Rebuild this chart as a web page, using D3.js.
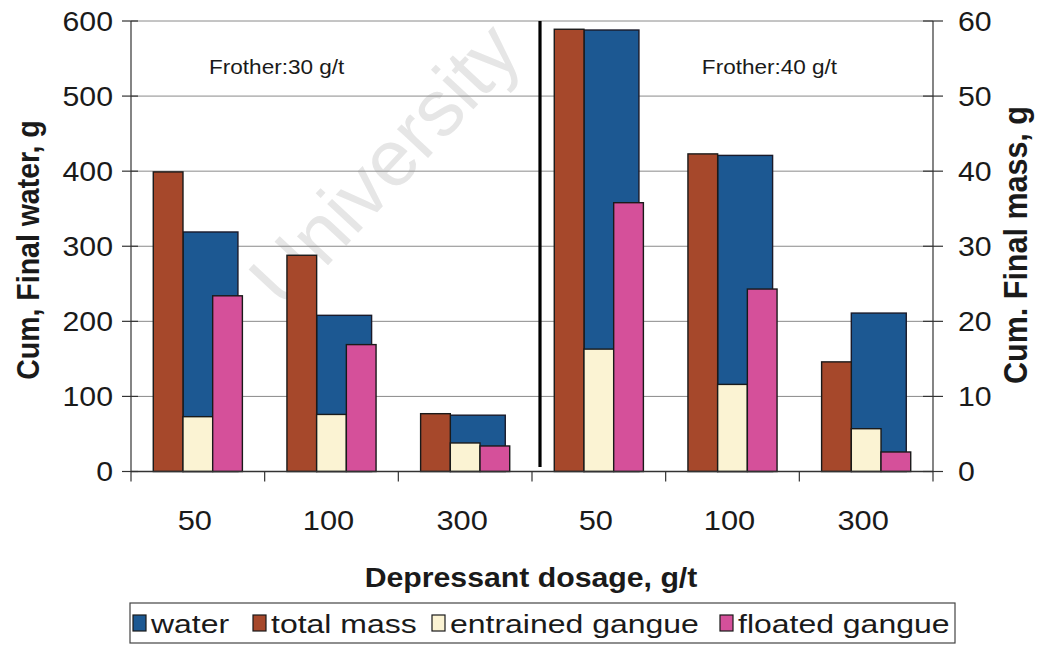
<!DOCTYPE html>
<html>
<head>
<meta charset="utf-8">
<script src="https://cdn.jsdelivr.net/npm/d3@7"></script>
<style>
  html, body { margin: 0; padding: 0; background: #fff; }
  svg { display: block; font-family: "Liberation Sans", Arial, sans-serif; }
</style>
</head>
<body>
<svg id="chart" width="1043" height="646"></svg>
<script>
// Depressant dosage per run (two frother levels, three dosages each)
const dosages = ["50", "100", "300", "50", "100", "300"];
const frotherLabels = ["Frother:30 g/t", "Frother:40 g/t"];

// Primary axis (g)
const water = [319, 208, 75, 588, 421, 211];
// Secondary axis (g)
const totalMass = [39.9, 28.8, 7.7, 58.9, 42.3, 14.6];
const entrainedGangue = [7.3, 7.6, 3.8, 16.3, 11.6, 5.7];
const floatedGangue = [23.4, 16.9, 3.4, 35.8, 24.3, 2.6];

const leftTicks = [0, 100, 200, 300, 400, 500, 600];
const rightTicks = [0, 10, 20, 30, 40, 50, 60];

const seriesNames = ["water", "total mass", "entrained gangue", "floated gangue"];
const colors = {
  "water": "#1c5892",
  "total mass": "#a6482b",
  "entrained gangue": "#fbf3d3",
  "floated gangue": "#d5509a"
};

const SX = 1.1; // horizontal text stretch
const svg = d3.select("#chart");

const plot = { left: 131, right: 933, top: 21, bottom: 471.5 };

const x = d3.scaleBand().domain(d3.range(dosages.length))
  .range([plot.left, plot.right]).paddingInner(0).paddingOuter(0);
const sub = d3.scaleBand().domain(["total mass", "entrained gangue", "floated gangue"])
  .range([0, x.bandwidth()]).paddingInner(0).paddingOuter(0.75);
const yL = d3.scaleLinear().domain([0, 600]).range([plot.bottom, plot.top]);
const yR = d3.scaleLinear().domain([0, 60]).range([plot.bottom, plot.top]);

function label(parent, px, py, str, o = {}) {
  const g = parent.append("g")
    .attr("transform", `translate(${px},${py}) scale(${o.sx || SX},1)` + (o.rotate ? ` rotate(${o.rotate})` : ""));
  return g.append("text")
    .attr("text-anchor", o.anchor || "middle")
    .attr("dy", o.dy || "0.35em")
    .attr("font-size", o.size || 27)
    .attr("font-weight", o.weight || "normal")
    .attr("fill", o.fill || "#1a1a1a")
    .text(str);
}

// faint watermark
const wm = svg.append("g").attr("transform", "translate(384,164) rotate(-47)");
wm.append("text").attr("text-anchor", "middle").attr("dy", "0.35em")
  .attr("font-size", 80).attr("fill", "#e6e6e6").text("University");

// gridlines
svg.append("g").selectAll("line").data(leftTicks.slice(1)).join("line")
  .attr("x1", plot.left).attr("x2", plot.right)
  .attr("y1", d => yL(d)).attr("y2", d => yL(d))
  .attr("stroke", "#8a8a8a").attr("stroke-width", 1);

// water (primary axis, drawn behind)
svg.append("g").selectAll("rect").data(water).join("rect")
  .attr("x", (d, i) => x(i) + sub("entrained gangue"))
  .attr("width", sub.bandwidth() * 1.85)
  .attr("y", d => yL(d))
  .attr("height", d => yL(0) - yL(d))
  .attr("fill", colors["water"]).attr("stroke", "#1a1a2a").attr("stroke-width", 1.4);

// secondary-axis series
const secondary = [
  ["total mass", totalMass],
  ["entrained gangue", entrainedGangue],
  ["floated gangue", floatedGangue]
];
secondary.forEach(([name, vals]) => {
  svg.append("g").selectAll("rect").data(vals).join("rect")
    .attr("x", (d, i) => x(i) + sub(name))
    .attr("width", sub.bandwidth())
    .attr("y", d => yR(d))
    .attr("height", d => yR(0) - yR(d))
    .attr("fill", colors[name]).attr("stroke", "#1a1a1a").attr("stroke-width", 1.4);
});

// divider between frother levels
svg.append("line")
  .attr("x1", x(3) + 8).attr("x2", x(3) + 8)
  .attr("y1", plot.top).attr("y2", 467)
  .attr("stroke", "#000").attr("stroke-width", 3.2);

// axes lines
const axisColor = "#333";
svg.append("line").attr("x1", plot.left).attr("x2", plot.left)
  .attr("y1", plot.top).attr("y2", plot.bottom).attr("stroke", axisColor).attr("stroke-width", 1.2);
svg.append("line").attr("x1", plot.right).attr("x2", plot.right)
  .attr("y1", plot.top).attr("y2", plot.bottom).attr("stroke", axisColor).attr("stroke-width", 1.2);
svg.append("line").attr("x1", plot.left).attr("x2", plot.right)
  .attr("y1", plot.bottom).attr("y2", plot.bottom).attr("stroke", axisColor).attr("stroke-width", 1.4);

// left ticks + labels
leftTicks.forEach(t => {
  svg.append("line").attr("x1", plot.left - 9).attr("x2", plot.left + 7)
    .attr("y1", yL(t)).attr("y2", yL(t)).attr("stroke", axisColor).attr("stroke-width", 1.2);
  label(svg, plot.left - 18, yL(t), String(t), { anchor: "end", size: 27.5 });
});
// right ticks + labels
rightTicks.forEach(t => {
  svg.append("line").attr("x1", plot.right - 10).attr("x2", plot.right + 10)
    .attr("y1", yR(t)).attr("y2", yR(t)).attr("stroke", axisColor).attr("stroke-width", 1.2);
  label(svg, plot.right + 25, yR(t), String(t), { anchor: "start", size: 27.5 });
});
// category ticks + labels
d3.range(dosages.length + 1).forEach(i => {
  const xx = i < dosages.length ? x(i) : plot.right;
  svg.append("line").attr("x1", xx).attr("x2", xx)
    .attr("y1", plot.bottom).attr("y2", plot.bottom + 10).attr("stroke", axisColor).attr("stroke-width", 1.2);
});
dosages.forEach((d, i) => {
  label(svg, x(i) + x.bandwidth() / 2 - 3, 520, d, { size: 28 });
});

// frother annotations
label(svg, x(0) + x.bandwidth() + 12, 67, frotherLabels[0], { size: 20.5, dy: 0 });
label(svg, x(4) + x.bandwidth() / 2 + 37, 67, frotherLabels[1], { size: 20.5, dy: 0 });

// axis titles
label(svg, 531, 577, "Depressant dosage, g/t", { size: 27.5, weight: "bold", dy: 0 });
label(svg, 28, 250, "Cum, Final water, g", { size: 28.5, weight: "bold", rotate: -90 });
label(svg, 1015, 245, "Cum. Final mass, g", { size: 30.5, weight: "bold", rotate: -90 });

// legend
const lg = svg.append("g");
lg.append("rect").attr("x", 130).attr("y", 603).attr("width", 825).attr("height", 40)
  .attr("fill", "#fff").attr("stroke", "#444").attr("stroke-width", 1.2);
const legendX = [133, 253, 432, 720];
seriesNames.forEach((name, i) => {
  lg.append("rect").attr("x", legendX[i]).attr("y", 615).attr("width", 13).attr("height", 16)
    .attr("fill", colors[name]).attr("stroke", "#1a1a1a").attr("stroke-width", 1.2);
  label(lg, legendX[i] + 18, 624, name, { anchor: "start", size: 26, sx: 1.23 });
});
</script>
</body>
</html>
